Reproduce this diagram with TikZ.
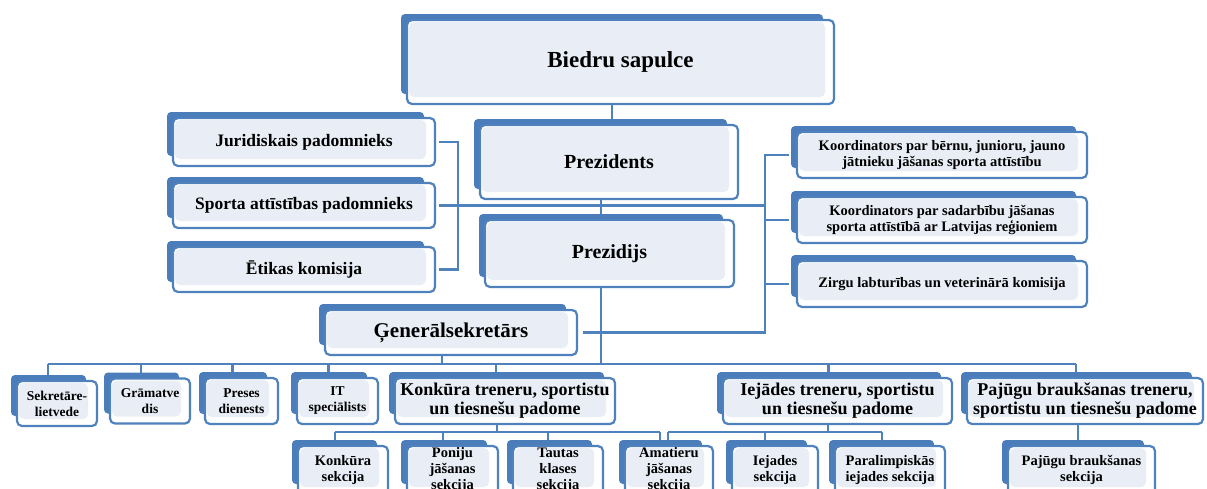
\documentclass[tikz,border=0pt]{standalone}
\usepackage{fontspec}
\setmainfont{Liberation Serif}
\definecolor{bl}{HTML}{4F81BD}
\definecolor{bk}{HTML}{4A7DBA}
\definecolor{lt}{HTML}{E9EEF6}
\pgfdeclarelayer{bg}
\pgfsetlayers{bg,main}
\tikzset{
  fr/.style={draw=bl, line width=2.2pt, rounded corners=5pt, fill=white, align=center,
    inner sep=0pt, text=black,
    path picture={\fill[lt] ([shift={(2pt,-2pt)}]path picture bounding box.north west)
      rectangle ([shift={(-9pt,7pt)}]path picture bounding box.south east);}},
  conn/.style={draw=bl, line width=2.2pt},
  fA/.style={font=\bfseries\fontsize{23}{26}\selectfont},
  fB/.style={font=\bfseries\fontsize{20}{23}\selectfont},
  fG/.style={font=\bfseries\fontsize{21}{24}\selectfont},
  fL/.style={font=\bfseries\fontsize{17.5}{20}\selectfont},
  fR/.style={font=\bfseries\fontsize{14.5}{16}\selectfont},
  fP/.style={font=\bfseries\fontsize{18}{19}\selectfont},
  fS/.style={font=\bfseries\fontsize{13.5}{16}\selectfont},
  fT/.style={font=\bfseries\fontsize{14.5}{16}\selectfont},
}
\newcommand\orgbox[7][]{%
  \fill[bk, rounded corners=4pt] ({#3-#5/2-6},{#4-#6/2-6}) rectangle ({#3+#5/2-11},{#4+#6/2-10});
  \node[fr, minimum width=#5, minimum height=#6, #1] (#2) at (#3,#4) {#7};
}
\begin{document}
\begin{tikzpicture}[x=1pt,y=-1pt]
\useasboundingbox (0,0) rectangle (1207,488);
\begin{pgfonlayer}{bg}
\fill[white] (0,0) rectangle (1207,488);
\end{pgfonlayer}
\clip (0,0) rectangle (1207,488);
% level 1-2
\orgbox[fA]{biedru}{620.5}{62}{427}{84}{Biedru sapulce}
\orgbox[fB]{prez}{609}{162}{258}{74}{Prezidents}
\orgbox[fB]{prezidijs}{609.5}{253.5}{249}{67}{Prezidijs}
% left
\orgbox[fL]{jur}{304}{142}{262}{48}{Juridiskais padomnieks}
\orgbox[fL]{sporta}{304}{205.5}{262}{45}{Sporta attīstības padomnieks}
\orgbox[fL]{etikas}{304}{269.5}{262}{45}{Ētikas komisija}
% right
\orgbox[fR]{koordA}{942}{155}{290}{46}{Koordinators par bērnu, junioru, jauno\\jātnieku jāšanas sporta attīstību}
\orgbox[fR]{koordB}{942}{220}{290}{46}{Koordinators par sadarbību jāšanas\\sporta attīstībā ar Latvijas reģioniem}
\orgbox[fR]{zirgu}{942}{284}{290}{46}{Zirgu labturības un veterinārā komisija}
% general secretary
\orgbox[fG]{gen}{451}{332.5}{252}{45}{Ģenerālsekretārs}
% level 3
\orgbox[fS]{sek}{57}{403.5}{80}{45}{Sekretāre-\\lietvede}
\orgbox[fS]{gram}{150}{401}{80}{45}{Grāmatve\\dis}
\orgbox[fS]{preses}{241.5}{401}{73}{46}{Preses\\dienests}
\orgbox[fS]{itsp}{337.5}{401}{81}{46}{IT\\speciālists}
\orgbox[fP]{konkpad}{505}{401}{220}{46}{Konkūra treneru, sportistu\\un tiesnešu padome}
\orgbox[fP]{iejpad}{837.5}{401}{229}{46}{Iejādes treneru, sportistu\\un tiesnešu padome}
\orgbox[fP]{pajpad}{1085}{401}{236}{46}{Pajūgu braukšanas treneru,\\sportistu un tiesnešu padome}
% level 4
\orgbox[fT]{konksek}{343}{470}{90}{48}{Konkūra\\sekcija}
\orgbox[fT]{poniju}{452.5}{470}{91}{48}{Poniju\\jāšanas\\sekcija}
\orgbox[fT]{tautas}{558}{470}{90}{48}{Tautas\\klases\\sekcija}
\orgbox[fT]{amat}{669}{470}{88}{48}{Amatieru\\jāšanas\\sekcija}
\orgbox[fT]{iejsek}{775}{470}{86}{48}{Iejades\\sekcija}
\orgbox[fT]{paral}{890}{470}{110}{48}{Paralimpiskās\\iejades sekcija}
\orgbox[fT]{pajsek}{1081.5}{470}{147}{48}{Pajūgu braukšanas\\sekcija}
% connectors
\coordinate (L) at (458,206);
\coordinate (R) at (765,206);
\coordinate (bus) at (0,364);
\coordinate (busK) at (0,432);
\begin{pgfonlayer}{bg}
\draw[conn] ([xshift=-8.5pt]biedru.south) -- ([xshift=-8.5pt]biedru.south |- prez.north);
\draw[conn] ([xshift=-8pt]prez.south) -- ([xshift=-8pt]prez.south |- prezidijs.north);
\draw[conn] ([xshift=3pt]jur.east) -- (jur.east -| L) -- (etikas.east -| L) -- ([xshift=3pt]etikas.east);
\draw[conn] ([xshift=3pt]sporta.east) -- (sporta.east -| R);
\draw[conn] ([xshift=-7pt]koordA.west) -- (koordA.west -| R) -- (R |- gen.east) -- ([xshift=5pt]gen.east);
\draw[conn] ([xshift=-7pt]koordB.west) -- (koordB.west -| R);
\draw[conn] ([xshift=-7pt]zirgu.west) -- (zirgu.west -| R);
% main bus
\draw[conn] ([xshift=-8.5pt]prezidijs.south) -- ([xshift=-8.5pt]prezidijs.south |- bus);
\draw[conn] ([xshift=-9pt]gen.south) -- ([xshift=-9pt]gen.south |- bus);
\draw[conn] ([xshift=-9pt]sek.north |- bus) -- ([xshift=-9pt]pajpad.north |- bus);
\foreach \n in {sek,gram,preses,itsp,konkpad,iejpad,pajpad}
  \draw[conn] ([xshift=-9pt]\n.north) -- ([xshift=-9pt]\n.north |- bus);
% Konkura bus
\draw[conn] ([xshift=-8pt]konkpad.south) -- ([xshift=-8pt]konkpad.south |- busK);
\draw[conn] ([xshift=-8pt]konksek.north |- busK) -- ([xshift=-9pt]amat.north |- busK);
\draw[conn] ([xshift=-8pt]konksek.north) -- ([xshift=-8pt]konksek.north |- busK);
\draw[conn] ([xshift=-9.5pt]poniju.north) -- ([xshift=-9.5pt]poniju.north |- busK);
\draw[conn] ([xshift=-10pt]tautas.north) -- ([xshift=-10pt]tautas.north |- busK);
\draw[conn] ([xshift=-9pt]amat.north) -- ([xshift=-9pt]amat.north |- busK);
% Iejades bus
\draw[conn] ([xshift=-9.5pt]iejpad.south) -- ([xshift=-9.5pt]iejpad.south |- busK);
\draw[conn] ([xshift=-1pt]amat.north |- busK) -- ([xshift=-8pt]paral.north |- busK);
\draw[conn] ([xshift=-1pt]amat.north) -- ([xshift=-1pt]amat.north |- busK);
\draw[conn] ([xshift=-10pt]iejsek.north) -- ([xshift=-10pt]iejsek.north |- busK);
\draw[conn] ([xshift=-8pt]paral.north) -- ([xshift=-8pt]paral.north |- busK);
% Pajugu
\draw[conn] ([xshift=-7pt]pajpad.south) -- ([xshift=-7pt]pajpad.south |- pajsek.north);
\end{pgfonlayer}
\end{tikzpicture}
\end{document}
